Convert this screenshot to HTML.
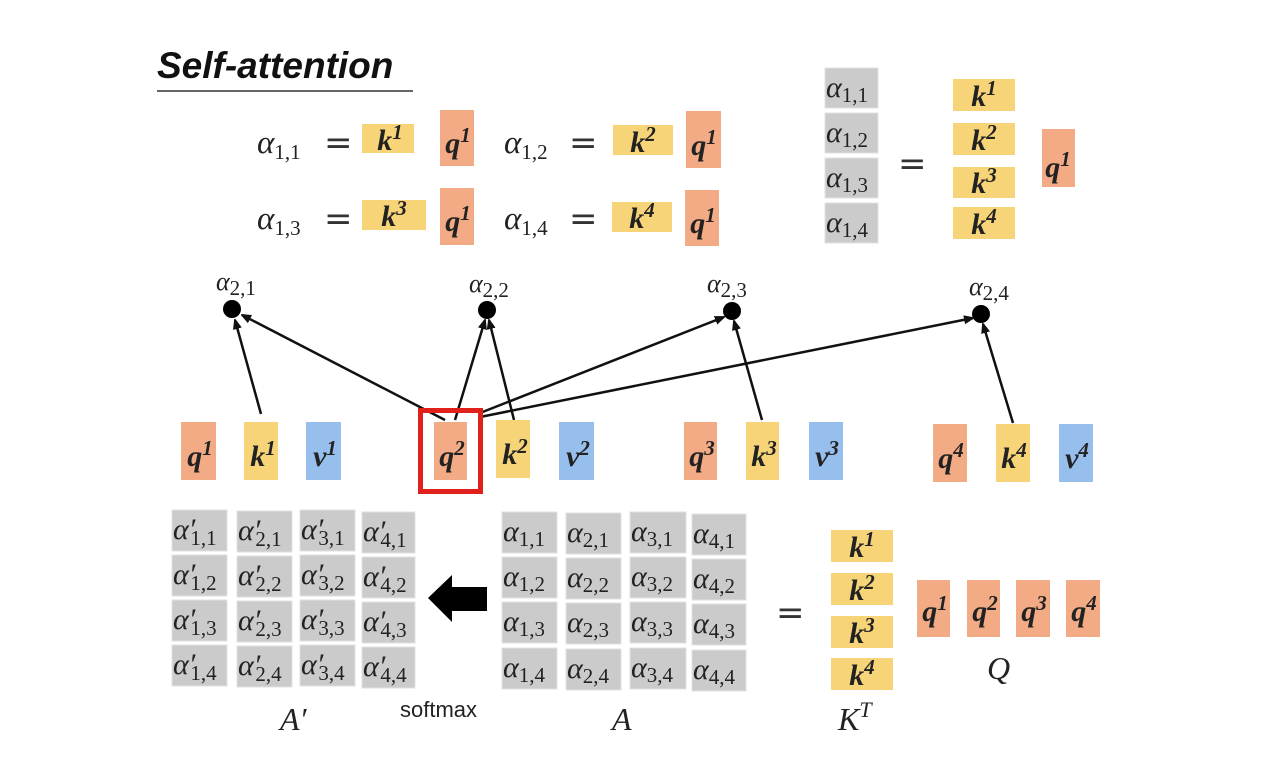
<!DOCTYPE html>
<html><head><meta charset="utf-8"><style>
html,body{margin:0;padding:0;background:#fff;}
svg{display:block;}
.m{font-family:"Liberation Serif",serif;font-style:italic;fill:#222;}
.b{font-family:"Liberation Serif",serif;font-style:italic;font-weight:bold;fill:#222;font-size:30px;}
.s{font-size:21px;font-style:normal;}
.e{font-family:"DejaVu Sans",sans-serif;font-style:normal;fill:#333;}
.y{fill:#f7d478;} .o{fill:#f2ab85;} .bl{fill:#97bfee;} .g{fill:#cbcbcb;stroke:#e2e2e2;}
</style></head><body>
<svg width="1278" height="778" viewBox="0 0 1278 778" xmlns="http://www.w3.org/2000/svg">
<defs><marker id="ar" markerWidth="10" markerHeight="10" refX="9" refY="5" orient="auto" markerUnits="userSpaceOnUse"><path d="M0,1 L10,5 L0,9 Z" fill="#111" stroke="#111" stroke-width="1"/></marker></defs>
<rect width="1278" height="778" fill="#fff"/>
<text x="157" y="78" font-family="Liberation Sans,sans-serif" font-style="italic" font-weight="bold" font-size="37" fill="#111">Self-attention</text>
<line x1="157" y1="91" x2="413" y2="91" stroke="#666" stroke-width="2"/>

<!-- top equations -->
<g class="m" font-size="33">
<text x="257" y="153">α<tspan class="s" font-size="23" dy="6">1,1</tspan></text>
<text x="504" y="153">α<tspan class="s" font-size="23" dy="6">1,2</tspan></text>
<text x="257" y="229">α<tspan class="s" font-size="23" dy="6">1,3</tspan></text>
<text x="504" y="229">α<tspan class="s" font-size="23" dy="6">1,4</tspan></text>
</g>
<g class="e" font-size="34">
<text x="324" y="154">=</text><text x="569" y="154">=</text>
<text x="324" y="230">=</text><text x="569" y="230">=</text>
</g>
<rect class="y" x="362" y="124" width="52" height="29"/>
<rect class="o" x="440" y="110" width="34" height="56"/>
<rect class="y" x="613" y="125" width="60" height="30"/>
<rect class="o" x="686" y="111" width="35" height="57"/>
<rect class="y" x="362" y="200" width="64" height="30"/>
<rect class="o" x="440" y="188" width="34" height="57"/>
<rect class="y" x="612" y="202" width="60" height="30"/>
<rect class="o" x="685" y="190" width="34" height="56"/>
<g class="b" text-anchor="middle">
<text x="390" y="150">k<tspan font-size="21" dy="-11">1</tspan></text>
<text x="458" y="153">q<tspan font-size="21" dy="-11">1</tspan></text>
<text x="643" y="152">k<tspan font-size="21" dy="-11">2</tspan></text>
<text x="704" y="155">q<tspan font-size="21" dy="-11">1</tspan></text>
<text x="394" y="226">k<tspan font-size="21" dy="-11">3</tspan></text>
<text x="458" y="231">q<tspan font-size="21" dy="-11">1</tspan></text>
<text x="642" y="228">k<tspan font-size="21" dy="-11">4</tspan></text>
<text x="703" y="233">q<tspan font-size="21" dy="-11">1</tspan></text>
</g>

<!-- top right -->
<rect class="g" x="825" y="68" width="53" height="40"/>
<rect class="g" x="825" y="113" width="53" height="40"/>
<rect class="g" x="825" y="158" width="53" height="40"/>
<rect class="g" x="825" y="203" width="53" height="40"/>
<g class="m" font-size="30">
<text x="826" y="97">α<tspan class="s" dy="5">1,1</tspan></text>
<text x="826" y="142">α<tspan class="s" dy="5">1,2</tspan></text>
<text x="826" y="187">α<tspan class="s" dy="5">1,3</tspan></text>
<text x="826" y="232">α<tspan class="s" dy="5">1,4</tspan></text>
</g>
<text class="e" x="898" y="175" font-size="34">=</text>
<rect class="y" x="953" y="79" width="62" height="32"/>
<rect class="y" x="953" y="123" width="62" height="32"/>
<rect class="y" x="953" y="167" width="62" height="31"/>
<rect class="y" x="953" y="207" width="62" height="32"/>
<rect class="o" x="1042" y="129" width="33" height="58"/>
<g class="b" text-anchor="middle">
<text x="984" y="106">k<tspan font-size="21" dy="-11">1</tspan></text>
<text x="984" y="150">k<tspan font-size="21" dy="-11">2</tspan></text>
<text x="984" y="193">k<tspan font-size="21" dy="-11">3</tspan></text>
<text x="984" y="234">k<tspan font-size="21" dy="-11">4</tspan></text>
<text x="1058" y="177">q<tspan font-size="21" dy="-11">1</tspan></text>
</g>

<!-- middle graph -->
<g class="m" font-size="26">
<text x="216" y="290">α<tspan class="s" font-size="19" dy="5">2,1</tspan></text>
<text x="469" y="292">α<tspan class="s" font-size="19" dy="5">2,2</tspan></text>
<text x="707" y="292">α<tspan class="s" font-size="19" dy="5">2,3</tspan></text>
<text x="969" y="295">α<tspan class="s" font-size="19" dy="5">2,4</tspan></text>
</g>
<circle cx="232" cy="309" r="9" fill="#000"/>
<circle cx="487" cy="310" r="9" fill="#000"/>
<circle cx="732" cy="311" r="9" fill="#000"/>
<circle cx="981" cy="314" r="9" fill="#000"/>
<g stroke="#111" stroke-width="2.5" marker-end="url(#ar)">
<line x1="261" y1="414" x2="235" y2="320"/>
<line x1="445" y1="420" x2="242" y2="315"/>
<line x1="455" y1="420" x2="485" y2="320"/>
<line x1="514" y1="420" x2="489" y2="320"/>
<line x1="480" y1="413" x2="724" y2="317"/>
<line x1="762" y1="420" x2="734" y2="321"/>
<line x1="480" y1="417" x2="973" y2="318"/>
<line x1="1013" y1="423" x2="983" y2="324"/>
</g>
<rect class="o" x="181" y="422" width="35" height="58"/>
<rect class="y" x="244" y="422" width="34" height="58"/>
<rect class="bl" x="306" y="422" width="35" height="58"/>
<rect class="o" x="434" y="422" width="33" height="58"/>
<rect x="420.5" y="410.5" width="60" height="81" fill="none" stroke="#e0201b" stroke-width="5"/>
<rect class="y" x="496" y="420" width="34" height="58"/>
<rect class="bl" x="559" y="422" width="35" height="58"/>
<rect class="o" x="684" y="422" width="33" height="58"/>
<rect class="y" x="746" y="422" width="33" height="58"/>
<rect class="bl" x="809" y="422" width="34" height="58"/>
<rect class="o" x="933" y="424" width="34" height="58"/>
<rect class="y" x="996" y="424" width="34" height="58"/>
<rect class="bl" x="1059" y="424" width="34" height="58"/>
<g class="b" text-anchor="middle">
<text x="200" y="466">q<tspan font-size="21" dy="-11">1</tspan></text>
<text x="263" y="466">k<tspan font-size="21" dy="-11">1</tspan></text>
<text x="325" y="466">v<tspan font-size="21" dy="-11">1</tspan></text>
<text x="452" y="466">q<tspan font-size="21" dy="-11">2</tspan></text>
<text x="515" y="464">k<tspan font-size="21" dy="-11">2</tspan></text>
<text x="578" y="466">v<tspan font-size="21" dy="-11">2</tspan></text>
<text x="702" y="466">q<tspan font-size="21" dy="-11">3</tspan></text>
<text x="764" y="466">k<tspan font-size="21" dy="-11">3</tspan></text>
<text x="827" y="466">v<tspan font-size="21" dy="-11">3</tspan></text>
<text x="951" y="468">q<tspan font-size="21" dy="-11">4</tspan></text>
<text x="1014" y="468">k<tspan font-size="21" dy="-11">4</tspan></text>
<text x="1077" y="468">v<tspan font-size="21" dy="-11">4</tspan></text>
</g>

<!-- A' grid -->
<g class="g">
<rect x="172" y="510" width="55" height="41"/><rect x="237" y="511" width="55" height="41"/><rect x="300" y="510" width="55" height="41"/><rect x="362" y="512" width="53" height="41"/>
<rect x="172" y="555" width="55" height="41"/><rect x="237" y="556" width="55" height="41"/><rect x="300" y="555" width="55" height="41"/><rect x="362" y="557" width="53" height="41"/>
<rect x="172" y="600" width="55" height="41"/><rect x="237" y="601" width="55" height="41"/><rect x="300" y="600" width="55" height="41"/><rect x="362" y="602" width="53" height="41"/>
<rect x="172" y="645" width="55" height="41"/><rect x="237" y="646" width="55" height="41"/><rect x="300" y="645" width="55" height="41"/><rect x="362" y="647" width="53" height="41"/>
</g>
<g class="m" font-size="30">
<text x="173" y="539">α′<tspan class="s" dy="6" dx="-5">1,1</tspan></text>
<text x="238" y="540">α′<tspan class="s" dy="6" dx="-5">2,1</tspan></text>
<text x="301" y="539">α′<tspan class="s" dy="6" dx="-5">3,1</tspan></text>
<text x="363" y="541">α′<tspan class="s" dy="6" dx="-5">4,1</tspan></text>
<text x="173" y="584">α′<tspan class="s" dy="6" dx="-5">1,2</tspan></text>
<text x="238" y="585">α′<tspan class="s" dy="6" dx="-5">2,2</tspan></text>
<text x="301" y="584">α′<tspan class="s" dy="6" dx="-5">3,2</tspan></text>
<text x="363" y="586">α′<tspan class="s" dy="6" dx="-5">4,2</tspan></text>
<text x="173" y="629">α′<tspan class="s" dy="6" dx="-5">1,3</tspan></text>
<text x="238" y="630">α′<tspan class="s" dy="6" dx="-5">2,3</tspan></text>
<text x="301" y="629">α′<tspan class="s" dy="6" dx="-5">3,3</tspan></text>
<text x="363" y="631">α′<tspan class="s" dy="6" dx="-5">4,3</tspan></text>
<text x="173" y="674">α′<tspan class="s" dy="6" dx="-5">1,4</tspan></text>
<text x="238" y="675">α′<tspan class="s" dy="6" dx="-5">2,4</tspan></text>
<text x="301" y="674">α′<tspan class="s" dy="6" dx="-5">3,4</tspan></text>
<text x="363" y="676">α′<tspan class="s" dy="6" dx="-5">4,4</tspan></text>
</g>
<path d="M428,598 L452,575 L452,587 L487,587 L487,611 L452,611 L452,622 Z" fill="#000"/>

<!-- A grid -->
<g class="g">
<rect x="502" y="512" width="55" height="41"/><rect x="566" y="513" width="55" height="41"/><rect x="630" y="512" width="56" height="41"/><rect x="692" y="514" width="54" height="41"/>
<rect x="502" y="557" width="55" height="41"/><rect x="566" y="558" width="55" height="41"/><rect x="630" y="557" width="56" height="41"/><rect x="692" y="559" width="54" height="41"/>
<rect x="502" y="602" width="55" height="41"/><rect x="566" y="603" width="55" height="41"/><rect x="630" y="602" width="56" height="41"/><rect x="692" y="604" width="54" height="41"/>
<rect x="502" y="648" width="55" height="41"/><rect x="566" y="649" width="55" height="41"/><rect x="630" y="648" width="56" height="41"/><rect x="692" y="650" width="54" height="41"/>
</g>
<g class="m" font-size="30">
<text x="503" y="541">α<tspan class="s" dy="5">1,1</tspan></text>
<text x="567" y="542">α<tspan class="s" dy="5">2,1</tspan></text>
<text x="631" y="541">α<tspan class="s" dy="5">3,1</tspan></text>
<text x="693" y="543">α<tspan class="s" dy="5">4,1</tspan></text>
<text x="503" y="586">α<tspan class="s" dy="5">1,2</tspan></text>
<text x="567" y="587">α<tspan class="s" dy="5">2,2</tspan></text>
<text x="631" y="586">α<tspan class="s" dy="5">3,2</tspan></text>
<text x="693" y="588">α<tspan class="s" dy="5">4,2</tspan></text>
<text x="503" y="631">α<tspan class="s" dy="5">1,3</tspan></text>
<text x="567" y="632">α<tspan class="s" dy="5">2,3</tspan></text>
<text x="631" y="631">α<tspan class="s" dy="5">3,3</tspan></text>
<text x="693" y="633">α<tspan class="s" dy="5">4,3</tspan></text>
<text x="503" y="677">α<tspan class="s" dy="5">1,4</tspan></text>
<text x="567" y="678">α<tspan class="s" dy="5">2,4</tspan></text>
<text x="631" y="677">α<tspan class="s" dy="5">3,4</tspan></text>
<text x="693" y="679">α<tspan class="s" dy="5">4,4</tspan></text>
</g>
<g class="m" font-size="32">
<text x="280" y="730">A′</text>
<text x="612" y="730">A</text>
<text x="838" y="730">K<tspan font-size="22" dy="-13">T</tspan></text>
<text x="987" y="679">Q</text>
</g>
<text class="e" x="776" y="624" font-size="34">=</text>
<text x="400" y="717" font-family="Liberation Sans,sans-serif" font-size="22" fill="#222">softmax</text>

<rect class="y" x="831" y="530" width="62" height="32"/>
<rect class="y" x="831" y="573" width="62" height="32"/>
<rect class="y" x="831" y="616" width="62" height="32"/>
<rect class="y" x="831" y="658" width="62" height="32"/>
<rect class="o" x="917" y="580" width="33" height="57"/>
<rect class="o" x="967" y="580" width="33" height="57"/>
<rect class="o" x="1016" y="580" width="34" height="57"/>
<rect class="o" x="1066" y="580" width="34" height="57"/>
<g class="b" text-anchor="middle">
<text x="862" y="557">k<tspan font-size="21" dy="-11">1</tspan></text>
<text x="862" y="600">k<tspan font-size="21" dy="-11">2</tspan></text>
<text x="862" y="643">k<tspan font-size="21" dy="-11">3</tspan></text>
<text x="862" y="685">k<tspan font-size="21" dy="-11">4</tspan></text>
<text x="935" y="621">q<tspan font-size="21" dy="-11">1</tspan></text>
<text x="985" y="621">q<tspan font-size="21" dy="-11">2</tspan></text>
<text x="1034" y="621">q<tspan font-size="21" dy="-11">3</tspan></text>
<text x="1084" y="621">q<tspan font-size="21" dy="-11">4</tspan></text>
</g>
</svg>
</body></html>
